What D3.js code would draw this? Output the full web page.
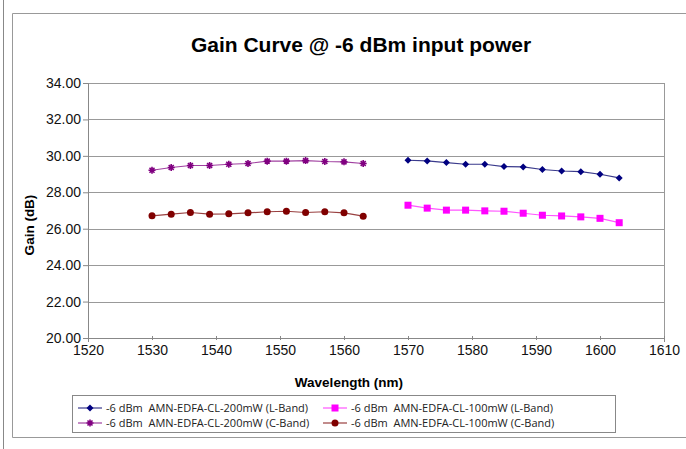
<!DOCTYPE html>
<html>
<head>
<meta charset="utf-8">
<script src="https://cdn.jsdelivr.net/npm/d3@7"></script>
<style>
  body { margin: 0; background: #fff; }
  svg { display: block; font-family: "Liberation Sans", Arial, sans-serif; }
  .legend text { font-family: "Open Sans", "Noto Sans", sans-serif; font-size: 11px; fill: #222; white-space: pre; }
</style>
</head>
<body>
<div id="chart"></div>
<script>
// Wavelengths (nm)
const cBand = [1530, 1533, 1536, 1539, 1542, 1545, 1548, 1551, 1554, 1557, 1560, 1563];
const lBand = [1570, 1573, 1576, 1579, 1582, 1585, 1588, 1591, 1594, 1597, 1600, 1603];

// Gain (dB)
const l200 = [29.76, 29.72, 29.63, 29.54, 29.54, 29.41, 29.39, 29.25, 29.17, 29.13, 28.99, 28.79];
const c200 = [29.21, 29.36, 29.47, 29.47, 29.54, 29.58, 29.71, 29.71, 29.74, 29.69, 29.67, 29.58];
const l100 = [27.29, 27.13, 27.02, 27.02, 26.98, 26.96, 26.85, 26.74, 26.70, 26.65, 26.57, 26.33];
const c100 = [26.71, 26.80, 26.89, 26.80, 26.82, 26.87, 26.93, 26.96, 26.89, 26.93, 26.87, 26.69];

const xTicks = [1520, 1530, 1540, 1550, 1560, 1570, 1580, 1590, 1600, 1610];
const yTicks = [20, 22, 24, 26, 28, 30, 32, 34];

const series = [
    { name: "-6 dBm  AMN-EDFA-CL-200mW (L-Band)", x: lBand, y: l200, color: "#000080", line: "#3a3a8c", marker: "diamond" },
    { name: "-6 dBm  AMN-EDFA-CL-100mW (L-Band)", x: lBand, y: l100, color: "#ff00ff", line: "#ff55ff", marker: "square" },
    { name: "-6 dBm  AMN-EDFA-CL-200mW (C-Band)", x: cBand, y: c200, color: "#800080", line: "#a040a0", marker: "star" },
    { name: "-6 dBm  AMN-EDFA-CL-100mW (C-Band)", x: cBand, y: c100, color: "#800000", line: "#994040", marker: "circle" }
];

const width = 686, height = 449;
const margin = { top: 83, right: 22, bottom: 111, left: 88 };
const innerWidth = width - margin.left - margin.right;
const innerHeight = height - margin.top - margin.bottom;

const svg = d3.select("#chart").append("svg")
    .attr("width", width)
    .attr("height", height);

// Page frame
svg.append("line").attr("x1", 3.5).attr("x2", 3.5).attr("y1", 0).attr("y2", height)
    .attr("stroke", "#888");
svg.append("path")
    .attr("d", `M${width},13.5 H12.5 V437.5 H${width}`)
    .attr("fill", "none").attr("stroke", "#999");

// Title
svg.append("text")
    .attr("x", 361).attr("y", 52)
    .attr("text-anchor", "middle")
    .style("font-size", "21px").style("font-weight", "bold")
    .text("Gain Curve @ -6 dBm input power");

const plot = svg.append("g")
    .attr("transform", `translate(${margin.left},${margin.top})`);

const x = d3.scaleLinear().domain([1520, 1610]).range([0, innerWidth]);
const y = d3.scaleLinear().domain([20, 34]).range([innerHeight, 0]);

// Grid lines
plot.append("g").selectAll("line")
    .data(yTicks.slice(1))
    .join("line")
    .attr("x1", 0).attr("x2", innerWidth)
    .attr("y1", d => Math.round(y(d)) + 0.5).attr("y2", d => Math.round(y(d)) + 0.5)
    .attr("stroke", "#999");

// Right border
plot.append("line")
    .attr("x1", innerWidth + 0.5).attr("x2", innerWidth + 0.5)
    .attr("y1", 0).attr("y2", innerHeight)
    .attr("stroke", "#999");

// Axes
const xAxis = plot.append("g")
    .attr("transform", `translate(0,${innerHeight})`)
    .call(d3.axisBottom(x).tickValues(xTicks).tickFormat(d3.format("d")).tickSize(4).tickPadding(3));
xAxis.selectAll(".tick line").attr("transform", "translate(0,-2)");

const yAxis = plot.append("g")
    .call(d3.axisLeft(y).tickValues(yTicks).tickFormat(d3.format(".2f")).tickSize(5).tickPadding(2));

[xAxis, yAxis].forEach(a => a
    .attr("font-family", "'Liberation Sans', Arial, sans-serif")
    .attr("font-size", 14));

plot.selectAll(".domain").attr("stroke", "#888");
plot.selectAll(".tick line").attr("stroke", "#888");
plot.selectAll(".tick text").attr("fill", "#111");

// Axis titles
svg.append("text")
    .attr("x", 349).attr("y", 387)
    .attr("text-anchor", "middle")
    .style("font-size", "13.5px").style("font-weight", "bold")
    .text("Wavelength (nm)");

svg.append("text")
    .attr("transform", "translate(34,225) rotate(-90)")
    .attr("text-anchor", "middle")
    .style("font-size", "13.5px").style("font-weight", "bold")
    .text("Gain (dB)");

// Marker drawing
function drawMarker(g, type, color) {
    if (type === "diamond") {
        g.append("path").attr("d", "M0,-3.5L3.5,0L0,3.5L-3.5,0Z").attr("fill", color);
    } else if (type === "square") {
        g.append("rect").attr("x", -3.5).attr("y", -3.5).attr("width", 7).attr("height", 7).attr("fill", color);
    } else if (type === "circle") {
        g.append("circle").attr("r", 3.5).attr("fill", color);
    } else if (type === "star") {
        g.append("path")
            .attr("d", "M-3.5,0H3.5M0,-3.5V3.5M-2.5,-2.5L2.5,2.5M-2.5,2.5L2.5,-2.5")
            .attr("stroke", color).attr("stroke-width", 1.6);
    }
}

const line = d3.line().x(d => x(d[0])).y(d => y(d[1]));

series.forEach(s => {
    const pts = s.x.map((v, i) => [v, s.y[i]]);
    plot.append("path")
        .datum(pts)
        .attr("d", line)
        .attr("fill", "none")
        .attr("stroke", s.line)
        .attr("stroke-width", 1.2);
    plot.append("g").selectAll("g")
        .data(pts)
        .join("g")
        .attr("transform", d => `translate(${x(d[0])},${y(d[1])})`)
        .each(function() { drawMarker(d3.select(this), s.marker, s.color); });
});

// Legend
const legend = svg.append("g").attr("class", "legend");
legend.append("rect")
    .attr("x", 72.5).attr("y", 395.5)
    .attr("width", 543).attr("height", 37)
    .attr("fill", "#fff").attr("stroke", "#888");

series.forEach((s, i) => {
    const col = i % 2, row = Math.floor(i / 2);
    const lx = 78 + col * 245, ly = 408 + row * 15;
    const item = legend.append("g").attr("transform", `translate(${lx},${ly})`);
    item.append("line").attr("x1", 0).attr("x2", 24).attr("y1", 0).attr("y2", 0)
        .attr("stroke", s.line).attr("stroke-width", 1.2);
    const m = item.append("g").attr("transform", "translate(12,0)");
    drawMarker(m, s.marker, s.color);
    item.append("text").attr("x", 28).attr("y", 4).text(s.name);
});
</script>
</body>
</html>
